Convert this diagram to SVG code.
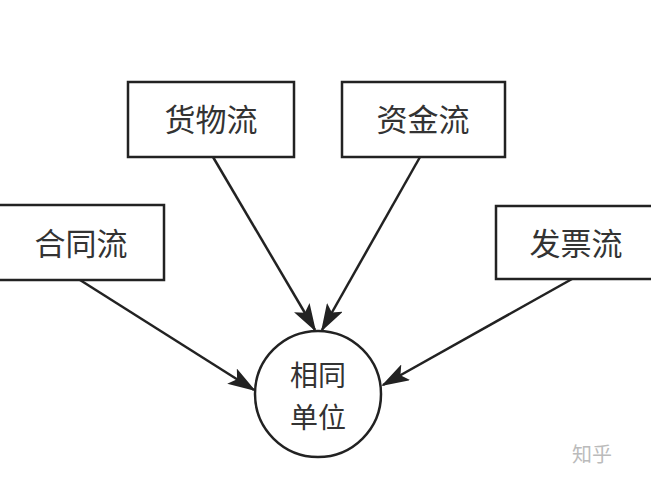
<svg xmlns="http://www.w3.org/2000/svg" width="651" height="488" viewBox="0 0 651 488">
<style>
.box{fill:#fff;stroke:#222;stroke-width:2.5}
.lbl{font-family:"Noto Sans CJK SC","Noto Sans CJK JP",sans-serif;font-size:31px;fill:#333;text-anchor:middle;dominant-baseline:central}
.clbl{font-family:"Noto Sans CJK SC","Noto Sans CJK JP",sans-serif;font-size:28px;fill:#333;text-anchor:middle;dominant-baseline:central}
.edge{stroke:#222;stroke-width:2.5;fill:none;marker-end:url(#ah)}
.wm{font-family:"Noto Sans CJK SC",sans-serif;font-size:20px;fill:#bbb}
</style>
<defs>
<marker id="ah" viewBox="0 0 28 18" refX="26" refY="9" markerWidth="28" markerHeight="18" markerUnits="userSpaceOnUse" orient="auto">
<path d="M0,0 L28,9 L0,18 L6,9 Z" fill="#222"/>
</marker>
</defs>
<rect width="651" height="488" fill="#fff"/>
<g id="connectors">
<line class="edge" x1="213" y1="157" x2="315" y2="330"/>
<line class="edge" x1="420" y1="157" x2="322" y2="330"/>
<line class="edge" x1="80" y1="280" x2="254" y2="390"/>
<line class="edge" x1="572" y1="279" x2="383" y2="385"/>
</g>
<g id="huowuliu">
<rect class="box" x="128" y="82" width="166" height="75"/>
<text class="lbl" x="211" y="117">货物流</text>
</g>
<g id="zijinliu">
<rect class="box" x="342" y="82" width="163" height="75"/>
<text class="lbl" x="423" y="117">资金流</text>
</g>
<g id="hetongliu">
<rect class="box" x="-2" y="205" width="166" height="75"/>
<text class="lbl" x="81" y="241">合同流</text>
</g>
<g id="fapiaoliu">
<rect class="box" x="496" y="206" width="160" height="73"/>
<text class="lbl" x="576" y="241">发票流</text>
</g>
<g id="xiangtongdanwei">
<circle cx="318" cy="394" r="63" fill="#fff" stroke="#222" stroke-width="2.5"/>
<text class="clbl" x="318" y="374">相同</text>
<text class="clbl" x="318" y="416">单位</text>
</g>
<text class="wm" x="572" y="462">知乎</text>
</svg>
